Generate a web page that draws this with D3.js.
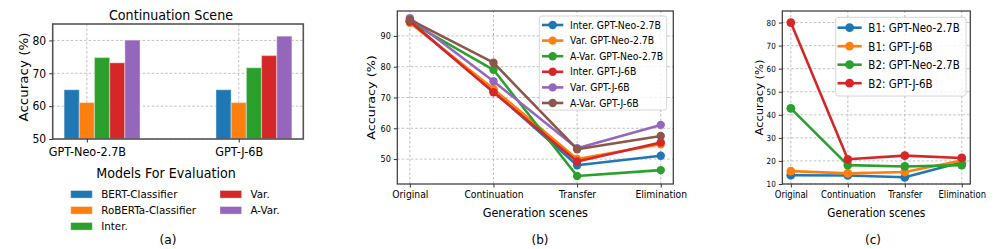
<!DOCTYPE html>
<html><head><meta charset="utf-8">
<script src="https://cdn.jsdelivr.net/npm/d3@7/dist/d3.min.js"></script>
<style>
body{margin:0;background:#fff;}
svg text{font-family:"DejaVu Sans",sans-serif;fill:#000;}
</style></head>
<body><svg id="c" width="997" height="249"></svg>
<script>
// ---------- data ----------
const modelsA = ["GPT-Neo-2.7B", "GPT-J-6B"];
const seriesA = ["BERT-Classifier", "RoBERTa-Classifier", "Inter.", "Var.", "A-Var."];
const bertA = [65.0, 65.0];
const robertaA = [61.1, 61.1];
const interA = [74.8, 71.7];
const varA = [73.2, 75.4];
const avarA = [80.1, 81.3];
const ticksA = [50, 60, 70, 80];

const scenes = ["Original", "Continuation", "Transfer", "Elimination"];
const seriesB = ["Inter. GPT-Neo-2.7B", "Var. GPT-Neo-2.7B", "A-Var. GPT-Neo-2.7B", "Inter. GPT-J-6B", "Var. GPT-J-6B", "A-Var. GPT-J-6B"];
const interNeoB = [94.8, 72.0, 48.0, 51.1];
const varNeoB = [94.3, 72.8, 50.0, 54.8];
const avarNeoB = [94.6, 79.0, 44.5, 46.4];
const interJB = [94.8, 71.7, 49.2, 55.4];
const varJB = [95.8, 75.3, 53.5, 61.1];
const avarJB = [95.3, 81.3, 53.2, 57.5];
const ticksB = [50, 60, 70, 80, 90];

const seriesC = ["B1: GPT-Neo-2.7B", "B1: GPT-J-6B", "B2: GPT-Neo-2.7B", "B2: GPT-J-6B"];
const b1NeoC = [13.8, 13.7, 12.9, 19.4];
const b1JC = [15.6, 14.6, 15.2, 20.2];
const b2NeoC = [42.8, 18.2, 17.6, 18.2];
const b2JC = [80.0, 20.7, 22.3, 21.3];
const ticksC = [10, 20, 30, 40, 50, 60, 70, 80];

const colors = ["#1f77b4", "#ff7f0e", "#2ca02c", "#d62728", "#9467bd", "#8c564b"];

const svg = d3.select("#c");

function txt(g, s, x, y, size, sx, anchor, rot) {
  const t = g.append("text").text(s).attr("font-size", size).attr("text-anchor", anchor || "middle");
  if (rot) t.attr("transform", `translate(${x},${y}) rotate(-90) scale(1,${sx})`);
  else t.attr("transform", `translate(${x},${y}) scale(${sx},1)`);
  return t;
}

function styleAxis(ax, size, sx, left, offset) {
  ax.select(".domain").remove();
  ax.selectAll(".tick line").attr("stroke", "#333").attr("stroke-width", 1);
  ax.selectAll(".tick text").attr("font-size", size).attr("fill", "#222")
    .attr("transform", `scale(${sx},1)`);
  if (left) ax.selectAll(".tick text").attr("x", -offset / sx);
}

function grid(g, x, y, xt, yt) {
  const [x0, x1] = x.range(), [y0, y1] = y.range();
  g.append("g").selectAll("line").data(yt).join("line")
    .attr("x1", x0).attr("x2", x1).attr("y1", d => y(d)).attr("y2", d => y(d))
    .attr("stroke", "#b0b0b0").attr("stroke-width", 0.8).attr("stroke-dasharray", "2.5,2");
  g.append("g").selectAll("line").data(xt).join("line")
    .attr("y1", y0).attr("y2", y1).attr("x1", d => x(d)).attr("x2", d => x(d))
    .attr("stroke", "#b0b0b0").attr("stroke-width", 0.8).attr("stroke-dasharray", "2.5,2");
}

function frame(g, x, y, col, w) {
  const [x0, x1] = x.range(), [y0, y1] = y.range();
  g.append("rect").attr("x", x0).attr("y", y1).attr("width", x1 - x0).attr("height", y0 - y1)
    .attr("fill", "none").attr("stroke", col).attr("stroke-width", w);
}

// ---------- panel (a) ----------
{
  const g = svg.append("g");
  const x = d3.scaleLinear().domain([-0.225, 1.425]).range([52.7, 303.3]);
  const y = d3.scaleLinear().domain([50, 85]).range([139, 24]);
  grid(g, x, y, [0, 1], ticksA);
  const vals = [bertA, robertaA, interA, varA, avarA];
  const bw = 0.1;
  vals.forEach((arr, i) => {
    g.append("g").selectAll("rect").data(arr).join("rect")
      .attr("x", (d, j) => x(j + (i - 1) * bw - bw / 2))
      .attr("width", x(bw) - x(0))
      .attr("y", d => y(d)).attr("height", d => y(50) - y(d))
      .attr("fill", colors[i]).attr("stroke", "#fff").attr("stroke-opacity", 0.35).attr("stroke-width", 1.2);
  });
  frame(g, x, y, "#555", 1.6);
  const ay = g.append("g").attr("transform", `translate(${x.range()[0]},0)`)
    .call(d3.axisLeft(y).tickValues(ticksA).tickSize(3.5).tickPadding(3));
  styleAxis(ay, 12, 0.9, true, 6.5);
  const ax = g.append("g").attr("transform", `translate(0,${y.range()[0]})`)
    .call(d3.axisBottom(x).tickValues([0, 1]).tickFormat(i => modelsA[i]).tickSize(3.5).tickPadding(4.5));
  styleAxis(ax, 12.5, 0.9, false);
  txt(g, "Continuation Scene", 171, 20, 13.5, 0.94);
  txt(g, "Accuracy (%)", 28, 77, 13.5, 0.94, "middle", true);
  txt(g, "Models For Evaluation", 166, 178, 13.5, 0.94);
  const legPos = [[70.7, 194.3], [70.7, 210.3], [70.7, 226.3], [220, 194.3], [220, 210.3]];
  seriesA.forEach((s, i) => {
    const [px, py] = legPos[i];
    g.append("rect").attr("x", px).attr("y", py - 3.8).attr("width", 21.6).attr("height", 7.6)
      .attr("fill", colors[i]).attr("stroke", "#fff").attr("stroke-opacity", 0.35);
    txt(g, s, px + 30.5, py + 4, 11, 0.94, "start");
  });
  txt(g, "(a)", 168, 243.5, 13, 0.94);
}

// ---------- line panels ----------
function linePanel(opt) {
  const g = svg.append("g");
  const x = d3.scaleLinear().domain([-0.15, 3.15]).range(opt.xr);
  const y = d3.scaleLinear().domain(opt.yd).range([184, 11]);
  grid(g, x, y, [0, 1, 2, 3], opt.yt);
  const line = d3.line().x((d, i) => x(i)).y(d => y(d));
  opt.data.forEach((arr, i) => {
    g.append("path").datum(arr).attr("d", line).attr("fill", "none")
      .attr("stroke", colors[i]).attr("stroke-width", opt.lw).attr("stroke-linejoin", "round");
    g.append("g").selectAll("circle").data(arr).join("circle")
      .attr("cx", (d, j) => x(j)).attr("cy", d => y(d)).attr("r", opt.r).attr("fill", colors[i]);
  });
  frame(g, x, y, "#333", 1.2);
  const ay = g.append("g").attr("transform", `translate(${x.range()[0]},0)`)
    .call(d3.axisLeft(y).tickValues(opt.yt).tickSize(3.5).tickPadding(3));
  styleAxis(ay, opt.yfs, opt.ysx, true, 6.5);
  const ax = g.append("g").attr("transform", `translate(0,184)`)
    .call(d3.axisBottom(x).tickValues([0, 1, 2, 3]).tickFormat(i => scenes[i]).tickSize(3.5).tickPadding(3.5));
  styleAxis(ax, opt.xfs, opt.xsx, false);
  const xm = (opt.xr[0] + opt.xr[1]) / 2;
  txt(g, "Generation scenes", xm, 216.5, opt.lfs, opt.lsx);
  txt(g, "Accuracy (%)", opt.ylx, 97.5, opt.ylfs, opt.lsx, "middle", true);
  // legend
  const L = opt.leg;
  g.append("rect").attr("x", L.x0).attr("y", L.y0).attr("width", L.x1 - L.x0).attr("height", L.y1 - L.y0)
    .attr("rx", 2.5).attr("fill", "#fff").attr("fill-opacity", 0.8).attr("stroke", "#cccccc").attr("stroke-width", 0.8);
  opt.names.forEach((s, i) => {
    const yy = L.rows[0] + i * L.dy;
    g.append("line").attr("x1", L.hx0).attr("x2", L.hx1).attr("y1", yy).attr("y2", yy)
      .attr("stroke", colors[i]).attr("stroke-width", opt.lw);
    g.append("circle").attr("cx", (L.hx0 + L.hx1) / 2).attr("cy", yy).attr("r", opt.r).attr("fill", colors[i]);
    txt(g, s, L.tx, yy + L.fs * 0.36, L.fs, L.sx, "start");
  });
  txt(g, opt.cap, opt.capx, 243.5, 13, 0.92);
}

linePanel({
  xr: [397.3, 673.3], yd: [41.9, 98.1], yt: ticksB,
  data: [interNeoB, varNeoB, avarNeoB, interJB, varJB, avarJB], names: seriesB,
  lw: 2.6, r: 4.2, yfs: 9, ysx: 0.9, xfs: 10.5, xsx: 0.88, lfs: 12.8, lsx: 0.88, ylfs: 12.8, ylx: 375,
  leg: {x0: 539.3, x1: 666.7, y0: 16, y1: 110, rows: [25], dy: 15.6, hx0: 542, hx1: 563.3, tx: 570, fs: 10, sx: 0.93},
  cap: "(b)", capx: 540
});

linePanel({
  xr: [782.3, 970.3], yd: [10, 85], yt: ticksC,
  data: [b1NeoC, b1JC, b2NeoC, b2JC], names: seriesC,
  lw: 2.6, r: 4.4, yfs: 8.5, ysx: 0.85, xfs: 10, xsx: 0.85, lfs: 11.4, lsx: 0.92, ylfs: 11.5, ylx: 763,
  leg: {x0: 835.7, x1: 966, y0: 17.3, y1: 96, rows: [27.7], dy: 18.5, hx0: 837.5, hx1: 861.7, tx: 868.3, fs: 12, sx: 0.86},
  cap: "(c)", capx: 873
});
</script></body></html>
